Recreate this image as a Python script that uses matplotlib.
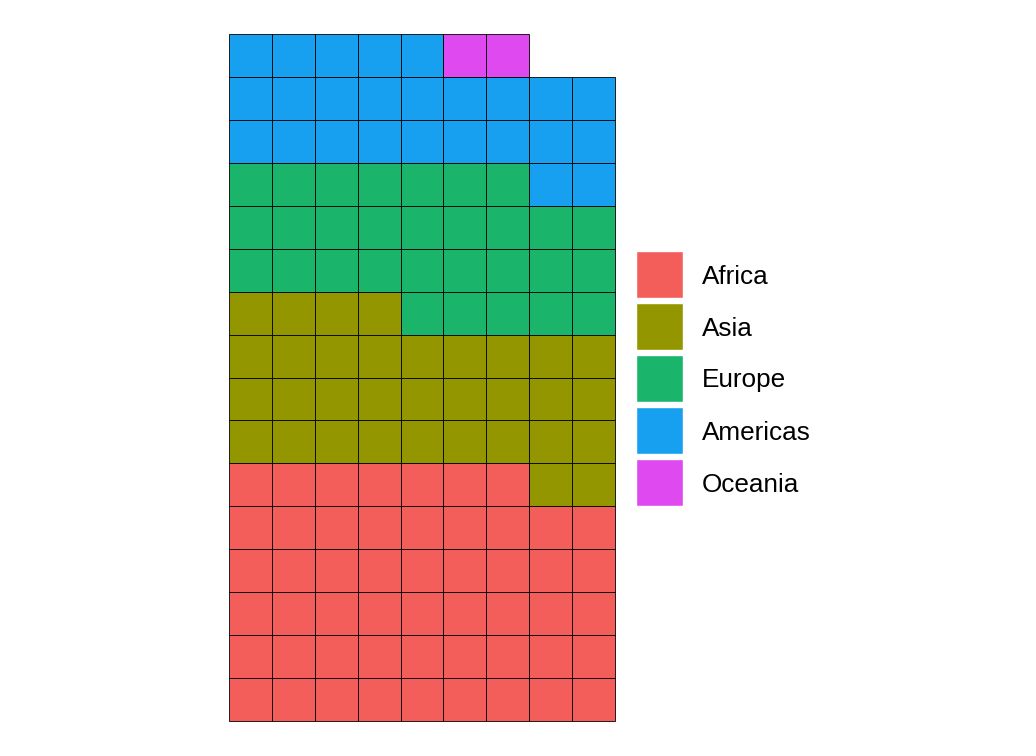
import matplotlib
matplotlib.use("Agg")
import matplotlib.pyplot as plt
from matplotlib.patches import Rectangle

categories = ["Africa", "Asia", "Europe", "Americas", "Oceania"]
counts = [52, 33, 30, 25, 2]
colors = ["#F35E5A", "#949600", "#1AB56B", "#18A0F0", "#DF4AF0"]
ncols = 9

plt.rcParams['font.family'] = ['Liberation Sans', 'DejaVu Sans']
fig = plt.figure(figsize=(10.36, 7.56), dpi=100)
W, H = 1036, 756

total = sum(counts)
nrows = -(-total // ncols)

ax = fig.add_axes([229 / W, (H - 721) / H, 386 / W, 687 / H])
idx = 0
for cat, n, c in zip(categories, counts, colors):
    for _ in range(n):
        col = idx % ncols
        row = idx // ncols
        ax.add_patch(Rectangle((col, row), 1, 1, facecolor=c, edgecolor="black",
                               linewidth=0.6, clip_on=False))
        idx += 1
ax.set_xlim(0, ncols)
ax.set_ylim(0, nrows)
ax.axis("off")

# legend
lax = fig.add_axes([0, 0, 1, 1])
lax.set_xlim(0, W)
lax.set_ylim(H, 0)
lax.axis("off")
top = 251
step = 52
for i, (cat, c) in enumerate(zip(categories, colors)):
    y = top + i * step
    lax.add_patch(Rectangle((636, y), 47, 47, facecolor=c, edgecolor="white", linewidth=1))
    lax.text(702, y + 25.5, cat, fontsize=18.8, va="center", ha="left", color="black")

fig.savefig("out.png", dpi=100)
